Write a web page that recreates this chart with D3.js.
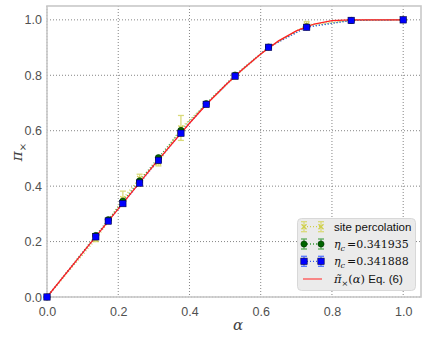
<!DOCTYPE html>
<html><head><meta charset="utf-8">
<script src="https://cdn.jsdelivr.net/npm/d3@7"></script>
<style>body{margin:0;background:#fff}svg{display:block}</style>
</head><body><svg id="c" width="427" height="339"></svg>
<script>
const alpha = [0, 0.137, 0.172, 0.213, 0.26, 0.313, 0.376, 0.447, 0.528, 0.622, 0.729, 0.854, 1.0];
const sitePerc = [0, 0.208, 0.272, 0.355, 0.428, 0.485, 0.610, 0.695, 0.795, 0.900, 0.982, 0.998, 1.0];
const siteErr = [0, 0.008, 0.006, 0.027, 0.015, 0.012, 0.045, 0.008, 0.008, 0.005, 0.012, 0.002, 0];
const eta1 = [0, 0.222, 0.279, 0.346, 0.419, 0.503, 0.601, 0.698, 0.801, 0.902, 0.975, 0.998, 1.0];
const eta1Err = [0, 0.004, 0.004, 0.005, 0.005, 0.005, 0.005, 0.004, 0.004, 0.003, 0.003, 0.001, 0];
const eta2 = [0, 0.217, 0.274, 0.337, 0.411, 0.493, 0.591, 0.695, 0.797, 0.901, 0.973, 0.998, 1.0];
const eta2Err = [0, 0.003, 0.003, 0.004, 0.004, 0.004, 0.004, 0.003, 0.003, 0.003, 0.003, 0.001, 0];
const thAlpha = [0, 0.1, 0.2, 0.3, 0.4, 0.45, 0.5, 0.55, 0.6, 0.65, 0.7, 0.75, 0.8, 0.85, 0.9, 1.0];
const thPi = [0, 0.159, 0.318, 0.476, 0.627, 0.698, 0.763, 0.823, 0.877, 0.924, 0.960, 0.985, 0.997, 1.0, 1.0, 1.0];
const xTicks = [0, 0.2, 0.4, 0.6, 0.8, 1.0];
const yTicks = [0, 0.2, 0.4, 0.6, 0.8, 1.0];

const svg = d3.select('#c');
const L = 47, R = 421, T = 6, B = 297;
const x = d3.scaleLinear().domain([0, 1.05]).range([L, R]);
const y = d3.scaleLinear().domain([0, 1.05]).range([B, T]);
const font = "'Liberation Sans', Arial, sans-serif";

// grid
const g = svg.append('g');
xTicks.forEach(t => g.append('line').attr('x1', x(t)).attr('x2', x(t)).attr('y1', T).attr('y2', B)
  .attr('stroke', '#777').attr('stroke-width', 0.9).attr('stroke-dasharray', '1,2'));
yTicks.forEach(t => g.append('line').attr('y1', y(t)).attr('y2', y(t)).attr('x1', L).attr('x2', R)
  .attr('stroke', '#777').attr('stroke-width', 0.9).attr('stroke-dasharray', '1,2'));

// axes (labels only)
const xa = svg.append('g').attr('transform', `translate(0,${B})`)
  .call(d3.axisBottom(x).tickValues(xTicks).tickFormat(d3.format('.1f')).tickSize(0).tickPadding(10));
const ya = svg.append('g').attr('transform', `translate(${L},0)`)
  .call(d3.axisLeft(y).tickValues(yTicks).tickFormat(d3.format('.1f')).tickSize(0).tickPadding(5));
[xa, ya].forEach(a => {
  a.select('.domain').remove();
  a.selectAll('text').attr('font-family', font).attr('font-size', 12.5).attr('fill', '#505050');
});

// frame
svg.append('rect').attr('x', L).attr('y', T).attr('width', R - L).attr('height', B - T)
  .attr('fill', 'none').attr('stroke', '#c8c8c8').attr('stroke-width', 1.6);

const line = d3.line().x(d => x(d[0])).y(d => y(d[1]));
function series(vals, errs, col, ecol, dash) {
  const pts = alpha.map((a, i) => [a, vals[i], errs[i]]);
  svg.append('path').attr('d', line(pts)).attr('fill', 'none').attr('stroke', col)
    .attr('stroke-width', 1.3).attr('stroke-dasharray', dash);
  pts.forEach(p => {
    if (p[2] > 0) {
      svg.append('line').attr('x1', x(p[0])).attr('x2', x(p[0])).attr('y1', y(p[1] - p[2])).attr('y2', y(p[1] + p[2]))
        .attr('stroke', ecol).attr('stroke-width', 1.3);
      [p[1] - p[2], p[1] + p[2]].forEach(v => svg.append('line').attr('x1', x(p[0]) - 3).attr('x2', x(p[0]) + 3)
        .attr('y1', y(v)).attr('y2', y(v)).attr('stroke', ecol).attr('stroke-width', 1.3));
    }
  });
  return pts;
}
const yel = '#cfcf4a', yelE = '#dada7a';
const sp = series(sitePerc, siteErr, yel, yelE, '1,2');
const gp = series(eta1, eta1Err, '#3a9a3a', '#5aaa5a', '1,2');
const bp = series(eta2, eta2Err, '#3355ee', '#5577ff', '1,2');

// theory
svg.append('path').attr('d', line(thAlpha.map((a, i) => [a, thPi[i]])))
  .attr('fill', 'none').attr('stroke', '#ff2020').attr('stroke-width', 1.3);

function xmark(cx, cy, s) {
  svg.append('path').attr('d', `M${cx - s},${cy - s}L${cx + s},${cy + s}M${cx - s},${cy + s}L${cx + s},${cy - s}`)
    .attr('stroke', yel).attr('stroke-width', 1.3);
}
function circ(cx, cy) {
  svg.append('circle').attr('cx', cx).attr('cy', cy).attr('r', 3.1).attr('fill', '#006400').attr('stroke', '#003300').attr('stroke-width', 0.6);
}
function sq(cx, cy) {
  svg.append('rect').attr('x', cx - 3.2).attr('y', cy - 3.2).attr('width', 6.4).attr('height', 6.4)
    .attr('fill', '#0000ff').attr('stroke', '#000044').attr('stroke-width', 0.6);
}
sp.forEach(p => xmark(x(p[0]), y(p[1]), 2.5));
gp.forEach(p => circ(x(p[0]), y(p[1])));
bp.forEach(p => sq(x(p[0]), y(p[1])));

// axis labels
svg.append('text').attr('x', (L + R) / 2 + 4).attr('y', 330).attr('text-anchor', 'middle')
  .attr('font-family', "'DejaVu Serif', serif").attr('font-style', 'italic').attr('font-size', 15).attr('fill', '#444').text('α');
const yl = svg.append('text').attr('transform', 'translate(22,152) rotate(-90)').attr('text-anchor', 'middle')
  .attr('font-family', "'DejaVu Serif', serif").attr('font-size', 15).attr('fill', '#444');
yl.append('tspan').attr('font-style', 'italic').text('π');
yl.append('tspan').attr('font-size', 10).attr('dy', 4).text('×');

// legend
const lg = svg.append('g');
lg.append('rect').attr('x', 297.5).attr('y', 218.5).attr('width', 118).attr('height', 72).attr('rx', 4)
  .attr('fill', '#ebebeb').attr('stroke', '#d8d8d8').attr('stroke-width', 1);
const lx1 = 304, lx2 = 321, tx = 334;
const rows = [226.7, 244, 261.3, 279];
function legErr(cy, col, ecol, mk) {
  lg.append('line').attr('x1', lx1).attr('x2', lx2).attr('y1', cy).attr('y2', cy).attr('stroke', col).attr('stroke-width', 1.3).attr('stroke-dasharray', '1,2');
  [lx1, lx2].forEach(cx => {
    lg.append('line').attr('x1', cx).attr('x2', cx).attr('y1', cy - 5).attr('y2', cy + 5).attr('stroke', ecol).attr('stroke-width', 1.3);
    [cy - 5, cy + 5].forEach(v => lg.append('line').attr('x1', cx - 3).attr('x2', cx + 3).attr('y1', v).attr('y2', v).attr('stroke', ecol).attr('stroke-width', 1.3));
    mk(cx, cy);
  });
}
legErr(rows[0], yel, yelE, (cx, cy) => xmark(cx, cy, 2.5));
legErr(rows[1], '#3a9a3a', '#5aaa5a', circ);
legErr(rows[2], '#3355ee', '#5577ff', sq);
lg.append('line').attr('x1', lx1 - 1).attr('x2', lx2 + 1).attr('y1', rows[3]).attr('y2', rows[3]).attr('stroke', '#ff5050').attr('stroke-width', 1.3);

function ltext(cy) {
  return lg.append('text').attr('x', tx).attr('y', cy + 4).attr('font-family', font).attr('font-size', 11.5).attr('fill', '#111');
}
ltext(rows[0]).text('site percolation');
[['0.341935', rows[1]], ['0.341888', rows[2]]].forEach(([v, cy]) => {
  const t = ltext(cy).attr('font-family', "'DejaVu Serif', serif").attr('font-size', 11);
  t.append('tspan').attr('font-style', 'italic').text('η');
  t.append('tspan').attr('font-style', 'italic').attr('font-size', 8).attr('dy', 3).text('c');
  t.append('tspan').attr('dy', -3).attr('dx', 2).text('=' + v);
});
const t4 = ltext(rows[3]);
t4.append('tspan').attr('font-family', "'DejaVu Serif', serif").attr('font-style', 'italic').text('π̃');
t4.append('tspan').attr('font-family', "'DejaVu Serif', serif").attr('font-size', 8).attr('dy', 3).text('×');
t4.append('tspan').attr('font-family', "'DejaVu Serif', serif").attr('dy', -3).text('(');
t4.append('tspan').attr('font-family', "'DejaVu Serif', serif").attr('font-style', 'italic').text('α');
t4.append('tspan').attr('font-family', "'DejaVu Serif', serif").text(')');
t4.append('tspan').text(' Eq. (6)');
</script></body></html>
